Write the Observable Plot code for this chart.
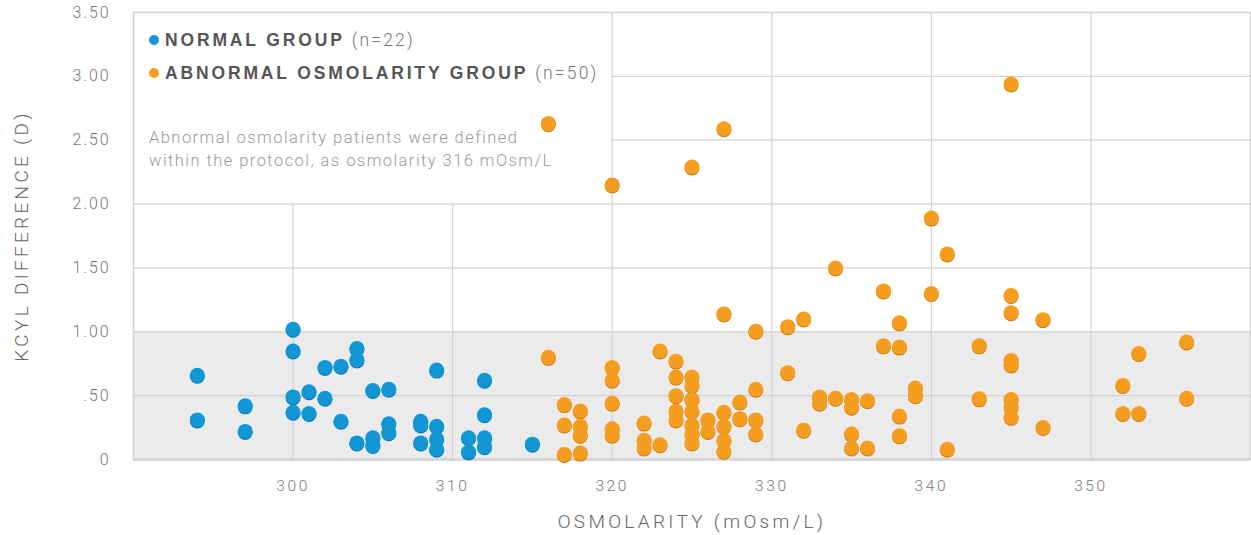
<!DOCTYPE html>
<html>
<head>
<meta charset="utf-8">
<script src="https://cdn.jsdelivr.net/npm/d3@7"></script>
<script src="https://cdn.jsdelivr.net/npm/@observablehq/plot@0.6"></script>
<style>
  html, body { margin: 0; padding: 0; background: #fff; }
  #wrap { position: relative; width: 1251px; height: 535px; font-family: Roboto, "Liberation Sans", sans-serif; }
  #legend { position: absolute; left: 149px; top: 28px; pointer-events: none; }
  .item { display: flex; align-items: center; height: 24px; margin-bottom: 9px; white-space: nowrap; }
  .sw { width: 10px; height: 10px; border-radius: 50%; margin-right: 6px; }
  .name { font-family: "Liberation Sans", Arial, sans-serif; font-weight: 700; font-size: 17.5px; letter-spacing: 2.85px; color: #555; }
  .n { font-weight: 300; font-size: 17.5px; color: #777; margin-left: 7px; letter-spacing: 2.2px; }
  #note { margin-top: 41px; font-weight: 300; font-size: 16.5px; line-height: 23px; color: #999; letter-spacing: 1.45px; white-space: nowrap; }
  svg text { font-family: Roboto, "Liberation Sans", sans-serif; }
</style>
</head>
<body>
<div id="wrap"></div>
<script>
// ---- data ----
const normalX = [294,294,297,297,300,300,300,300,301,301,302,302,303,303,304,304,304,305,305,305,306,306,306,308,308,308,309,309,309,309,311,311,312,312,312,312,315];
const normalY = [0.66,0.31,0.42,0.22,1.02,0.85,0.49,0.37,0.53,0.36,0.72,0.48,0.73,0.30,0.87,0.78,0.13,0.54,0.17,0.11,0.55,0.28,0.21,0.30,0.27,0.13,0.70,0.26,0.16,0.08,0.17,0.06,0.62,0.35,0.17,0.10,0.12];

const abnormalX = [316,316, 317,317,317, 318,318,318,318, 320,320,320,320,320,320, 322,322,322, 323,323,
  324,324,324,324,324, 325,325,325,325,325,325,325,325, 326,326, 327,327,327,327,327,327, 328,328,
  329,329,329,329, 331,331, 332,332, 333,333, 334,334, 335,335,335,335, 336,336, 337,337,
  338,338,338,338, 339,339, 340,340, 341,341, 343,343, 345,345,345,345,345,345,345,345, 347,347,
  352,352, 353,353, 356,356];
const abnormalY = [2.63,0.80, 0.43,0.27,0.04, 0.38,0.26,0.19,0.05, 2.15,0.72,0.62,0.44,0.24,0.19, 0.285,0.15,0.09, 0.85,0.115,
  0.77,0.645,0.50,0.38,0.31, 2.29,0.645,0.58,0.47,0.38,0.27,0.20,0.13, 0.31,0.22, 2.59,1.14,0.37,0.26,0.15,0.065, 0.45,0.32,
  1.005,0.55,0.31,0.20, 1.04,0.68, 1.10,0.23, 0.49,0.44, 1.50,0.48, 0.47,0.41,0.20,0.09, 0.46,0.09, 1.32,0.89,
  1.07,0.88,0.34,0.185, 0.56,0.50, 1.89,1.30, 1.61,0.08, 0.89,0.475, 2.94,1.285,1.15,0.775,0.74,0.47,0.41,0.33, 1.095,0.25,
  0.58,0.36, 0.83,0.36, 0.92,0.48];

const xTicks = [300, 310, 320, 330, 340, 350];
const yTicks = [0, 0.5, 1.0, 1.5, 2.0, 2.5, 3.0, 3.5];
const xDomain = [290, 360];
const yDomain = [0, 3.5];
const normalBand = [0, 1.0];          // shaded "normal" KCYL range
const legendArea = {x: 320, y: 2.0};  // grid hidden left of / above these

const xLabel = "OSMOLARITY (mOsm/L)";
const yLabel = "KCYL DIFFERENCE (D)";
const seriesNames = ["NORMAL GROUP", "ABNORMAL OSMOLARITY GROUP"];
const seriesN = ["(n=22)", "(n=50)"];
const colors = ["#1197d6", "#f59d1f"];
const shadows = ["#0a78ad", "#c87a12"];
const noteLines = ["Abnormal osmolarity patients were defined", "within the protocol, as osmolarity 316 mOsm/L"];

const normal = normalX.map((x, i) => ({x, y: normalY[i]}));
const abnormal = abnormalX.map((x, i) => ({x, y: abnormalY[i]}));

const yFmt = d => d === 0 ? "0" : d3.format(".2f")(d).replace(/^0/, "");

const plot = Plot.plot({
  width: 1251,
  height: 535,
  marginLeft: 133,
  marginRight: 1,
  marginTop: 12,
  marginBottom: 76,
  x: {domain: xDomain},
  y: {domain: yDomain},
  marks: [
    Plot.rect([{y1: normalBand[0], y2: normalBand[1]}], {y1: "y1", y2: "y2", fill: "#ebebeb"}),
    Plot.ruleX(xTicks, {x: d => d, y1: 0, y2: d => d < legendArea.x ? legendArea.y : yDomain[1], stroke: "#d2d2d2", strokeWidth: 1.2}),
    Plot.ruleY(yTicks.filter(d => d > 0), {y: d => d, x1: d => d > legendArea.y ? legendArea.x : xDomain[0], x2: xDomain[1], stroke: "#d2d2d2", strokeWidth: 1.2}),
    Plot.frame({stroke: "#d2d2d2", strokeWidth: 1.5}),
    Plot.ruleY([0], {stroke: "#d2d2d2", strokeWidth: 2.5}),
    Plot.dot(normal, {x: "x", y: "y", r: 7.5, fill: shadows[0], dy: 1}),
    Plot.dot(normal, {x: "x", y: "y", r: 7.5, fill: colors[0]}),
    Plot.dot(abnormal, {x: "x", y: "y", r: 7.5, fill: shadows[1], dy: 1}),
    Plot.dot(abnormal, {x: "x", y: "y", r: 7.5, fill: colors[1]}),
    Plot.axisX(xTicks, {tickSize: 0, tickPadding: 20, fontSize: 15.5, fill: "#777", label: null, tickFormat: d => d, className: "xt"}),
    Plot.axisX([], {label: xLabel, labelAnchor: "center", labelArrow: "none", labelOffset: 68, fontSize: 19, fill: "#666"}),
    Plot.axisY(yTicks, {tickSize: 0, tickPadding: 23, fontSize: 16, fill: "#777", label: null, tickFormat: yFmt, className: "yt"}),
    Plot.axisY([], {label: yLabel, labelAnchor: "center", labelArrow: "none", labelOffset: 119, fontSize: 19, fill: "#666"})
  ]
});

const wrap = document.getElementById("wrap");
wrap.appendChild(plot);
const svg = d3.select(plot);
svg.selectAll("text").style("font-weight", 300);
svg.selectAll(".xt text").style("letter-spacing", "2.6px");
svg.selectAll(".yt text").style("letter-spacing", "1.9px");
svg.selectAll("text")
  .filter(function() { const t = this.textContent; return t === xLabel || t === yLabel; })
  .style("letter-spacing", "3.3px")
  .style("font-size", "19px");

const legend = document.createElement("div");
legend.id = "legend";
seriesNames.forEach((name, i) => {
  const item = document.createElement("div");
  item.className = "item";
  item.innerHTML = `<span class="sw" style="background:${colors[i]}"></span><span class="name">${name}</span><span class="n">${seriesN[i]}</span>`;
  legend.appendChild(item);
});
const note = document.createElement("div");
note.id = "note";
note.innerHTML = noteLines.join("<br>");
legend.appendChild(note);
wrap.appendChild(legend);
</script>
</body>
</html>
